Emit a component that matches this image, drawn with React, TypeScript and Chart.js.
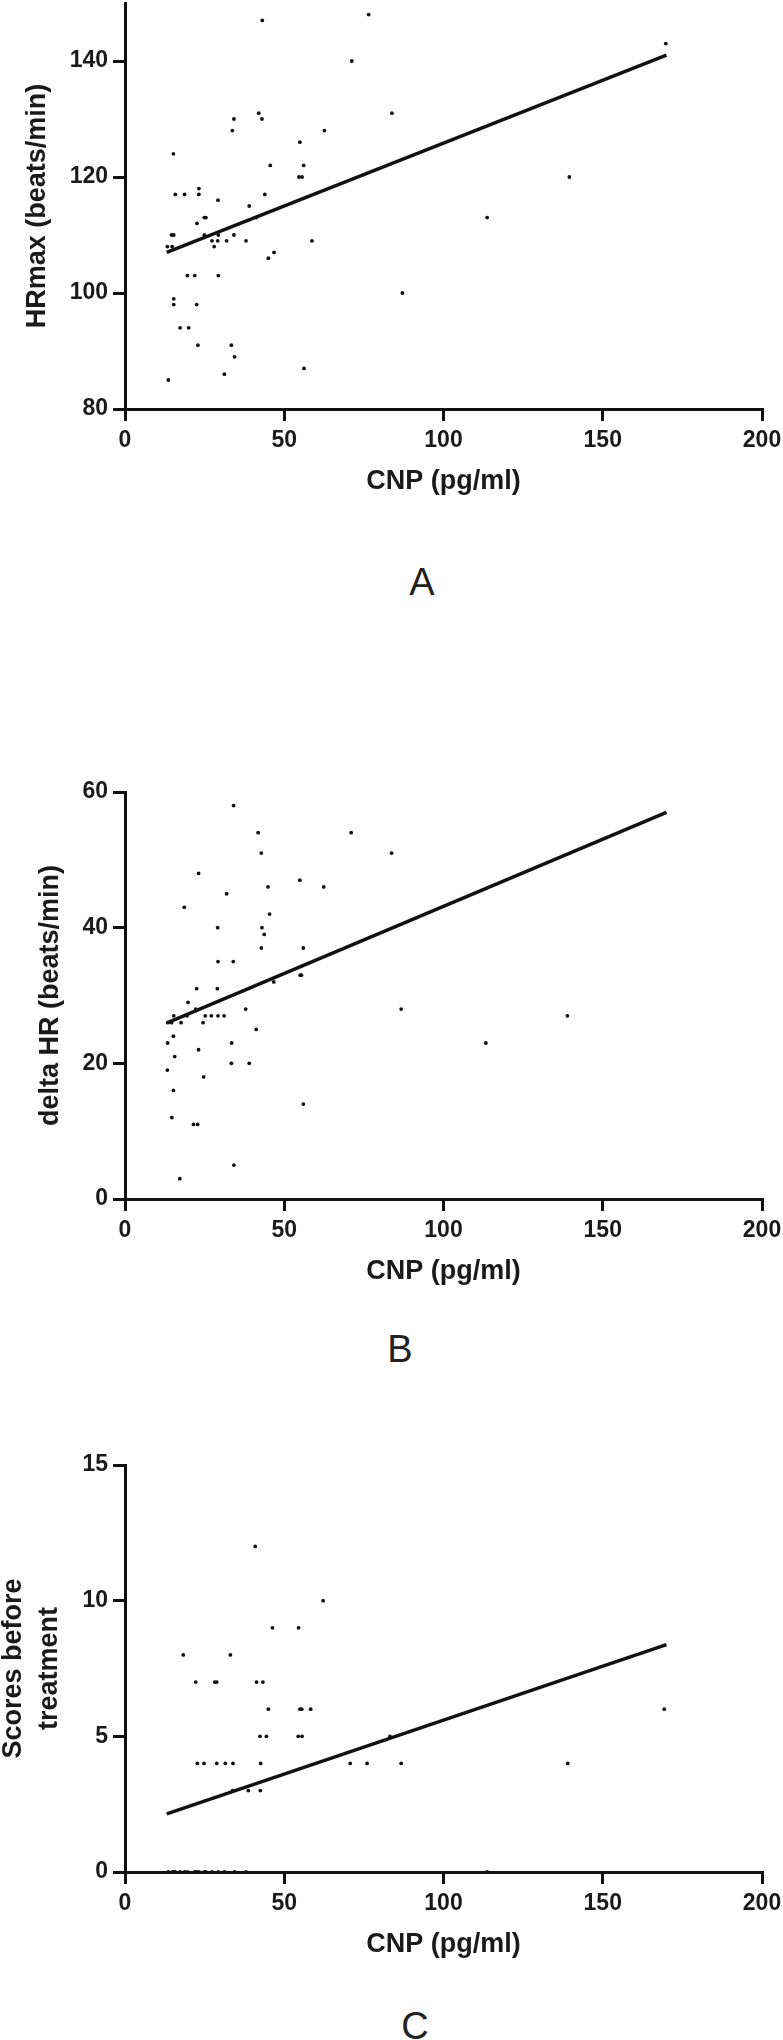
import React, { useEffect, useRef } from "react";
import { Chart, registerables } from "chart.js";

Chart.register(...registerables);

// ---------- Data ----------
const xTickValues = [0, 50, 100, 150, 200];

// Panel A: HRmax vs CNP
const cnpA = [43.1, 76.5, 71.2, 83.8, 42.0, 43.0, 34.2, 33.7, 62.6, 54.9, 15.2, 45.6, 56.1, 54.6, 55.6, 23.2, 15.8, 18.7, 23.2, 43.9, 29.2, 39.0, 24.9, 25.4, 41.2, 22.6, 14.6, 15.3, 24.9, 29.3, 34.2, 13.3, 14.8, 27.3, 29.1, 31.9, 38.0, 28.0, 58.7, 46.8, 45.0, 19.6, 21.9, 29.3, 15.3, 15.3, 22.5, 17.3, 20.0, 22.9, 33.4, 34.4, 56.2, 31.2, 13.6, 87.1, 113.7, 139.5, 169.8];
const hrmaxA = [147, 148, 140, 131, 131, 130, 130, 128, 128, 126, 124, 122, 122, 120, 120, 118, 117, 117, 117, 117, 116, 115, 113, 113, 113, 112, 110, 110, 110, 110, 110, 108, 108, 109, 109, 109, 109, 108, 109, 107, 106, 103, 103, 103, 99, 98, 98, 94, 94, 91, 91, 89, 87, 86, 85, 100, 113, 120, 143];
const fitCnpA = [13.1, 170];
const fitHrmaxA = [107, 141];
const yTicksA = [80, 100, 120, 140];

// Panel B: delta HR vs CNP
const cnpB = [34.1, 41.8, 71.0, 42.8, 83.7, 23.1, 54.9, 44.9, 62.4, 31.9, 18.6, 45.4, 29.1, 43.0, 43.7, 42.8, 56.0, 29.2, 34.0, 55.0, 55.4, 46.7, 22.5, 29.0, 19.8, 37.9, 22.2, 15.3, 19.5, 25.2, 27.1, 29.2, 31.1, 13.4, 14.6, 17.6, 24.5, 41.2, 15.2, 13.4, 33.5, 15.6, 23.1, 33.4, 39.0, 13.3, 24.7, 15.2, 56.0, 14.7, 21.5, 22.8, 34.2, 17.2, 86.7, 113.3, 138.9];
const deltaHrB = [58, 54, 54, 51, 51, 48, 47, 46, 46, 45, 43, 42, 40, 40, 39, 37, 37, 35, 35, 33, 33, 32, 31, 31, 29, 28, 28, 27, 27, 27, 27, 27, 27, 26, 26, 26, 26, 25, 24, 23, 23, 21, 22, 20, 20, 19, 18, 16, 14, 12, 11, 11, 5, 3, 28, 23, 27];
const fitCnpB = [13.4, 170];
const fitDeltaHrB = [26, 57];
const yTicksB = [0, 20, 40, 60];

// Panel C: scores before treatment vs CNP
const cnpC = [40.9, 62.2, 46.3, 54.5, 18.3, 33.1, 22.2, 28.2, 28.8, 41.3, 43.3, 45.0, 54.9, 55.5, 58.3, 42.4, 44.4, 54.4, 55.6, 83.2, 22.7, 24.8, 28.8, 31.5, 33.9, 42.6, 70.7, 76.0, 86.7, 33.8, 38.7, 42.5, 139.0, 169.3, 13.6, 14.9, 15.3, 15.8, 17.3, 18.7, 19.6, 21.9, 22.5, 23.2, 24.9, 25.4, 27.3, 29.3, 31.2, 34.4, 38.0, 113.7];
const scoresC = [12, 10, 9, 9, 8, 8, 7, 7, 7, 7, 7, 6, 6, 6, 6, 5, 5, 5, 5, 5, 4, 4, 4, 4, 4, 4, 4, 4, 4, 3, 3, 3, 4, 6, 0, 0, 0, 0, 0, 0, 0, 0, 0, 0, 0, 0, 0, 0, 0, 0, 0, 0];
const fitCnpC = [13.1, 170];
const fitScoresC = [2.14, 8.38];
const yTicksC = [0, 5, 10, 15];

// ---------- Styling / layout ----------
const INK = "#111111";
const TEXT = "#1a1a1a";
const FAMILY = "'Liberation Sans', Arial, Helvetica, sans-serif";
const PAGE_W = 783;
const PLOT_LEFT = 125;
const PLOT_RIGHT = 762;
const X_SCALE_H = 89;
const TITLE_SIZE = 27;

type PanelCfg = {
  xs: number[];
  ys: number[];
  fitX: number[];
  fitY: number[];
  yMin: number;
  yMax: number;
  yTicks: number[];
  yTitle: string | string[];
  yTitlePad: number;
  yTitleLineHeight: number | string;
  canvasTop: number;
  chartTop: number;
  chartBottom: number;
};

const panels: PanelCfg[] = [
  {
    xs: cnpA, ys: hrmaxA, fitX: fitCnpA, fitY: fitHrmaxA,
    yMin: 80, yMax: 150, yTicks: yTicksA,
    yTitle: "HRmax (beats/min)", yTitlePad: 21, yTitleLineHeight: 1.2,
    canvasTop: 0, chartTop: 3, chartBottom: 409,
  },
  {
    xs: cnpB, ys: deltaHrB, fitX: fitCnpB, fitY: fitDeltaHrB,
    yMin: 0, yMax: 60, yTicks: yTicksB,
    yTitle: "delta HR (beats/min)", yTitlePad: 34, yTitleLineHeight: 1.2,
    canvasTop: 700, chartTop: 792, chartBottom: 1199,
  },
  {
    xs: cnpC, ys: scoresC, fitX: fitCnpC, fitY: fitScoresC,
    yMin: 0, yMax: 15, yTicks: yTicksC,
    yTitle: ["Scores before", "treatment"], yTitlePad: -4, yTitleLineHeight: "36px",
    canvasTop: 1380, chartTop: 1465, chartBottom: 1872,
  },
];

const letters = [
  { text: "A", cx: 422, cy: 582 },
  { text: "B", cx: 400, cy: 1349 },
  { text: "C", cx: 415, cy: 2026 },
];

function Panel({ cfg }: { cfg: PanelCfg }) {
  const ref = useRef<HTMLCanvasElement | null>(null);
  const height = cfg.chartBottom + X_SCALE_H - cfg.canvasTop;

  useEffect(() => {
    const canvas = ref.current;
    if (!canvas) return;
    const axisCommon = {
      grid: {
        display: true,
        drawOnChartArea: false,
        drawTicks: true,
        tickLength: 12,
        lineWidth: 3,
        tickWidth: 3,
        tickColor: INK,
        color: INK,
      },
      border: { display: true, width: 3, color: INK },
    };
    const chart = new Chart(canvas, {
      type: "scatter",
      data: {
        datasets: [
          {
            type: "scatter",
            data: cfg.xs.map((x, i) => ({ x, y: cfg.ys[i] })),
            pointRadius: 1.9,
            pointHoverRadius: 1.9,
            pointBackgroundColor: INK,
            pointBorderWidth: 0,
            clip: false,
          } as any,
          {
            type: "line",
            data: cfg.fitX.map((x, i) => ({ x, y: cfg.fitY[i] })),
            borderColor: INK,
            borderWidth: 3.5,
            pointRadius: 0,
            fill: false,
            tension: 0,
            clip: false,
          } as any,
        ],
      },
      options: {
        responsive: false,
        animation: false,
        devicePixelRatio: 1,
        events: [],
        layout: {
          padding: { left: 0, right: PAGE_W - PLOT_RIGHT, top: cfg.chartTop - cfg.canvasTop, bottom: 0 },
        },
        plugins: {
          legend: { display: false },
          tooltip: { enabled: false },
          title: { display: false },
        },
        scales: {
          x: {
            type: "linear",
            min: 0,
            max: 200,
            afterBuildTicks: (s: any) => {
              s.ticks = xTickValues.map((v) => ({ value: v }));
            },
            afterFit: (s: any) => {
              s.height = X_SCALE_H;
              s.paddingLeft = 0;
              s.paddingRight = 0;
            },
            ticks: {
              color: TEXT,
              padding: 6,
              font: { family: FAMILY, size: 23, weight: "bold" },
              maxRotation: 0,
            },
            title: {
              display: true,
              text: "CNP (pg/ml)",
              color: TEXT,
              font: { family: FAMILY, size: TITLE_SIZE, weight: "bold", lineHeight: 1.2 },
              padding: { top: 0, bottom: 0 },
            },
            ...axisCommon,
          },
          y: {
            type: "linear",
            min: cfg.yMin,
            max: cfg.yMax,
            afterBuildTicks: (s: any) => {
              s.ticks = cfg.yTicks.map((v) => ({ value: v }));
            },
            afterFit: (s: any) => {
              s.width = PLOT_LEFT;
              s.paddingTop = 0;
              s.paddingBottom = 0;
            },
            ticks: {
              color: TEXT,
              padding: 5,
              font: { family: FAMILY, size: 23, weight: "bold" },
            },
            title: {
              display: true,
              text: cfg.yTitle,
              color: TEXT,
              font: { family: FAMILY, size: TITLE_SIZE, weight: "bold", lineHeight: cfg.yTitleLineHeight },
              padding: { top: cfg.yTitlePad, bottom: 0 },
            },
            ...axisCommon,
          },
        },
      } as any,
    });
    return () => chart.destroy();
  }, [cfg]);

  return (
    <canvas
      ref={ref}
      width={PAGE_W}
      height={height}
      style={{ position: "absolute", left: 0, top: cfg.canvasTop, width: PAGE_W, height }}
    />
  );
}

export default function App() {
  return (
    <div
      style={{
        position: "absolute",
        left: 0,
        top: 0,
        width: PAGE_W,
        height: 2040,
        overflow: "hidden",
        background: "#ffffff",
      }}
    >
      {panels.map((p, i) => (
        <Panel key={i} cfg={p} />
      ))}
      {letters.map((l) => (
        <div
          key={l.text}
          style={{
            position: "absolute",
            left: l.cx - 40,
            top: l.cy - 19,
            width: 80,
            height: 38,
            lineHeight: "38px",
            textAlign: "center",
            fontFamily: FAMILY,
            fontSize: 38,
            color: "#222222",
          }}
        >
          {l.text}
        </div>
      ))}
    </div>
  );
}
